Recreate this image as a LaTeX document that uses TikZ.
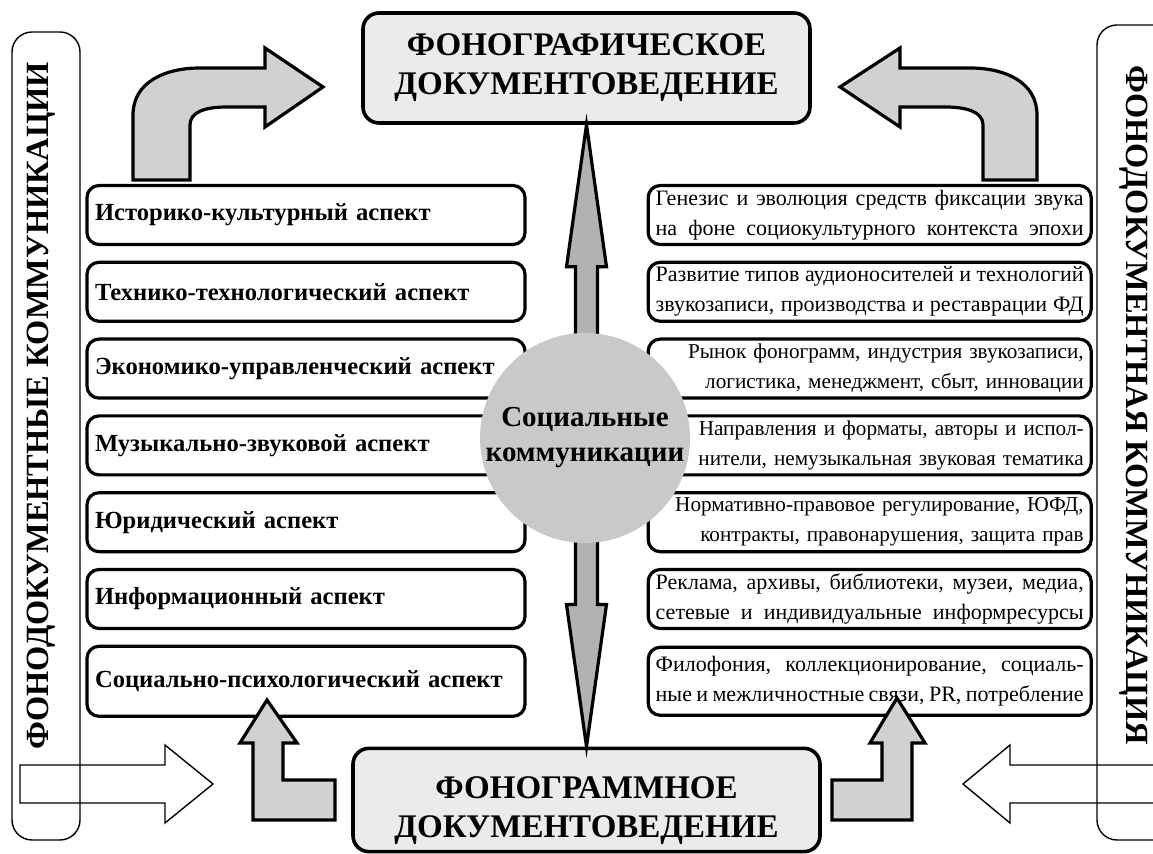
\documentclass[tikz,border=0pt]{standalone}
\usepackage{fontspec}
\setmainfont{Liberation Serif}
\usetikzlibrary{positioning,calc}

\newlength{\topicw}
\setlength{\topicw}{214pt}
% a line stretched to the full width of a topic box
\newcommand{\fullline}[1]{\hbox to \topicw{\spaceskip=0.2em plus 1fil minus 0.1em\relax #1}}

\begin{document}
\begin{tikzpicture}[
        x=0.5pt, y=-0.5pt,
        node distance=7.3pt,
        aspect/.style={
            rectangle,
            rounded corners=6pt,
            draw,
            line width=1.6pt,
            fill=white,
            minimum width=219pt,
            minimum height=29.5pt,
            text width=211pt,
            inner xsep=4pt,
            align=left,
            font=\fontsize{12.3}{14}\selectfont\bfseries
        },
        topic/.style={
            rectangle,
            rounded corners=6pt,
            draw,
            line width=1.6pt,
            fill=white,
            minimum width=221.5pt,
            minimum height=29.5pt,
            text width=\topicw,
            inner xsep=2pt,
            inner ysep=1pt,
            align=right,
            font=\fontsize{11}{15}\selectfont
        },
        shorttopic/.style={
            topic,
            font=\fontsize{10.6}{15}\selectfont
        },
        field/.style={
            rectangle,
            rounded corners=8pt,
            draw,
            line width=1.8pt,
            fill=black!8,
            align=center,
            font=\fontsize{16.5}{19.5}\selectfont\bfseries
        },
        sidebar/.style={
            rectangle,
            rounded corners=10pt,
            draw,
            line width=0.7pt
        },
        sidetext/.style={
            font=\fontsize{16.2}{17}\selectfont\bfseries
        },
        core/.style={
            circle,
            fill=black!21,
            minimum size=105pt,
            inner sep=0pt,
            align=center,
            font=\fontsize{14.5}{17.5}\selectfont\bfseries
        },
        bent/.style={
            draw,
            line width=1.6pt,
            fill=black!18,
            line join=miter
        },
        hollow/.style={
            draw,
            line width=0.7pt
        },
        shaft/.style={
            draw,
            line width=1.6pt,
            fill=black!30,
            line join=miter
        }
    ]
    \clip (0,0) rectangle (1153,854);
    \fill[white] (0,0) rectangle (1153,854);
    % Side bars
    \node[sidebar, minimum width=34pt, minimum height=404pt] (lbar) at (46,436) {};
    \node[sidebar, minimum width=39pt, minimum height=407.5pt] (rbar) at (1136,432.5) {};
    \node[sidetext, rotate=90] (ltxt) at (41,406) {ФОНОДОКУМЕНТНЫЕ КОММУНИКАЦИИ};
    \node[sidetext, rotate=-90] (rtxt) at (1134,405) {ФОНОДОКУМЕНТНАЯ КОММУНИКАЦИЯ};
    % Open arrows from the side bars
    \draw[hollow] (20,765) -- (165,765) -- (165,745) -- (213,784) -- (165,823) -- (165,803) -- (20,803) -- cycle;
    \draw[hollow] (1160,765) -- (1010,765) -- (1010,745) -- (963,784) -- (1010,823) -- (1010,803) -- (1160,803);
    % Aspects
    \node[aspect] (l1) at (306,215) {Историко-культурный аспект};
    \node[aspect, below=of l1] (l2) {Технико-технологический аспект};
    \node[aspect, below=of l2] (l3) {Экономико-управленческий аспект};
    \node[aspect, below=of l3] (l4) {Музыкально-звуковой аспект};
    \node[aspect, below=of l4] (l5) {Юридический аспект};
    \node[aspect, below=of l5] (l6) {Информационный аспект};
    \node[aspect, below=of l6, minimum height=35pt] (l7) {Социально-психологический аспект};
    % Topics
    \node[topic, right=60pt of l1] (r1) {\fullline{Генезис и эволюция средств фиксации звука}\\\fullline{на фоне социокультурного контекста эпохи}};
    \node[topic, right=60pt of l2] (r2) {\fullline{Развитие типов аудионосителей и технологий}\\\fullline{звукозаписи, производства и реставрации ФД}};
    \node[shorttopic, right=60pt of l3] (r3) {Рынок фонограмм, индустрия звукозаписи,\\логистика, менеджмент, сбыт, инновации};
    \node[shorttopic, right=60pt of l4] (r4) {Направления и форматы, авторы и испол-\\нители, немузыкальная звуковая тематика};
    \node[shorttopic, right=60pt of l5] (r5) {Нормативно-правовое регулирование, ЮФД,\\контракты, правонарушения, защита прав};
    \node[topic, right=60pt of l6] (r6) {\fullline{Реклама, архивы, библиотеки, музеи, медиа,}\\\fullline{сетевые и индивидуальные информресурсы}};
    \node[topic, right=60pt of l7, minimum height=34pt] (r7) {\fullline{Филофония, коллекционирование, социаль-}\\\fullline{ные и межличностные связи, PR, потребление}};
    % Fields
    \node[field, minimum width=223.5pt, minimum height=55pt] (top) at (586.5,68) {ФОНОГРАФИЧЕСКОЕ\\ДОКУМЕНТОВЕДЕНИЕ};
    \node[field, minimum width=233.5pt, minimum height=48pt] (bot) at (586.5,800) {\rule{0pt}{22pt}ФОНОГРАММНОЕ\\ДОКУМЕНТОВЕДЕНИЕ};
    % Bent arrows
    \draw[bent] (133,180) -- (133,115) .. controls (133,82) and (165,68) .. (200,68) -- (265,68) -- (265,48) -- (323,87) -- (265,127) -- (265,107) -- (227,107) .. controls (205,107) and (190,112) .. (190,125) -- (190,180) -- cycle;
    \draw[bent] (1037,180) -- (1037,115) .. controls (1037,82) and (1005,68) .. (970,68) -- (900,68) -- (900,48) -- (840,87) -- (900,127) -- (900,107) -- (945,107) .. controls (967,107) and (983,112) .. (983,125) -- (983,180) -- cycle;
    \draw[bent] (335,780) -- (283,780) -- (283,743) -- (297,743) -- (267,700) -- (240,743) -- (253,743) -- (253,820) -- (335,820) -- cycle;
    \draw[bent] (832,780) -- (882,780) -- (882,743) -- (870,743) -- (897,698) -- (925,743) -- (912,743) -- (912,820) -- (832,820) -- cycle;
    % Double arrow between the fields
    \coordinate (ta) at (top.south);
    \coordinate (ba) at (bot.north);
    \draw[shaft] (ta) -- ($(ta)+(20,142)$) -- ($(ta)+(11,142)$) -- ($(ba)+(11,-142)$) -- ($(ba)+(20,-142)$) -- (ba) -- ($(ba)+(-20,-142)$) -- ($(ba)+(-11,-142)$) -- ($(ta)+(-11,142)$) -- ($(ta)+(-20,142)$) -- cycle;
    % Centre
    \node[core] (soc) at (585,438) {Социальные\\коммуникации};
\end{tikzpicture}
\end{document}
